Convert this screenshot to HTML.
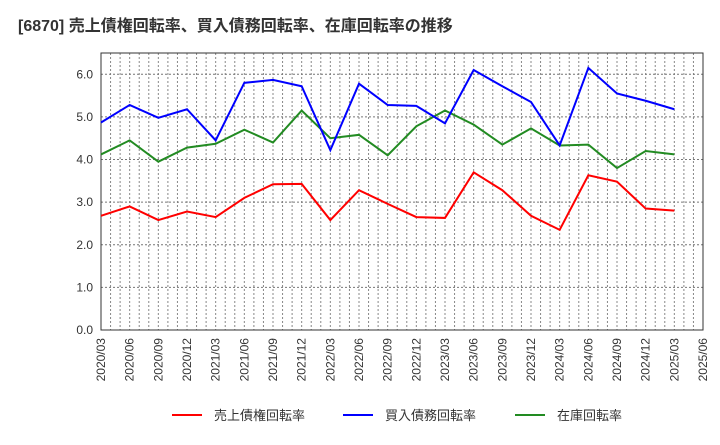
<!DOCTYPE html>
<html><head><meta charset="utf-8"><style>
body{margin:0;background:#fff;width:720px;height:440px;overflow:hidden;font-family:"Liberation Sans","Noto Sans CJK JP",sans-serif}
</style></head><body>
<svg width="720" height="440" xmlns="http://www.w3.org/2000/svg">
<text x="18" y="31" font-size="16" font-weight="bold" fill="#333" font-family="Liberation Sans, Noto Sans CJK JP, sans-serif">[6870]  売上債権回転率、買入債務回転率、在庫回転率の推移</text>
<g id="grid"></g>
<g id="axes"></g>
<g id="series"></g>
<g id="legend"></g>
</svg>
<script>
const xLabels=["2020/03","2020/06","2020/09","2020/12","2021/03","2021/06","2021/09","2021/12","2022/03","2022/06","2022/09","2022/12","2023/03","2023/06","2023/09","2023/12","2024/03","2024/06","2024/09","2024/12","2025/03","2025/06"];
const yTicks=[0,1,2,3,4,5,6];
const receivables=[2.68,2.9,2.58,2.78,2.65,3.1,3.42,3.43,2.58,3.28,2.96,2.65,2.63,3.7,3.28,2.68,2.35,3.63,3.48,2.85,2.8];
const payables=[4.87,5.28,4.98,5.18,4.45,5.8,5.87,5.72,4.22,5.78,5.28,5.26,4.85,6.1,5.72,5.35,4.33,6.15,5.55,5.38,5.18];
const inventory=[4.12,4.45,3.95,4.28,4.37,4.7,4.4,5.15,4.5,4.58,4.1,4.78,5.15,4.82,4.35,4.73,4.33,4.35,3.8,4.2,4.12];
const L=101,R=703,T=53,B=330,yMax=6.5;
const NS="http://www.w3.org/2000/svg";
const xm=m=>L+(R-L)*m/63;
const xq=i=>xm(i*3);
const y=v=>B-(B-T)*v/yMax;
function mk(p,tag,a){const e=document.createElementNS(NS,tag);for(const k in a)e.setAttribute(k,a[k]);p.appendChild(e);return e;}
const grid=document.getElementById('grid'),axes=document.getElementById('axes'),series=document.getElementById('series'),legend=document.getElementById('legend');
for(let m=1;m<63;m++){const l=mk(grid,'line',{x1:xm(m),x2:xm(m),y1:T,y2:B,stroke:'#888','stroke-dasharray':'2,2','stroke-width':1});

}
yTicks.forEach(v=>{if(v>0){const g=mk(grid,'line',{x1:L,x2:R,y1:y(v),y2:y(v),stroke:'#777','stroke-dasharray':'2,2'});

}
const t=mk(axes,'text',{x:L-8,y:y(v)+4,'text-anchor':'end','font-size':12,fill:'#333'});t.textContent=v.toFixed(1);

});
const fr=mk(axes,'rect',{x:L,y:T,width:R-L,height:B-T,fill:'none',stroke:'#333','stroke-width':1});


xLabels.forEach((s,i)=>{const x=xq(i);const t=mk(axes,'text',{x:0,y:0,transform:`translate(${x+4},${B+8}) rotate(-90)`,'text-anchor':'end','font-size':12,fill:'#333'});t.textContent=s;

});
function line(d,c,n){const p=mk(series,'polyline',{points:d.map((v,i)=>xq(i)+','+y(v)).join(' '),fill:'none',stroke:c,'stroke-width':2});

}
line(inventory,'#228B22','inventory-turnover-line');
line(receivables,'#FF0000','receivables-turnover-line');
line(payables,'#0000FF','payables-turnover-line');
[["売上債権回転率","#FF0000",172],["買入債務回転率","#0000FF",343],["在庫回転率","#228B22",515]].forEach(([s,c,x])=>{
const g=mk(legend,'g',{});


mk(g,'line',{x1:x,x2:x+30,y1:415,y2:415,stroke:c,'stroke-width':2});
const t=mk(g,'text',{x:x+42,y:420,'font-size':13,fill:'#333'});t.textContent=s;});
</script>
</body></html>
